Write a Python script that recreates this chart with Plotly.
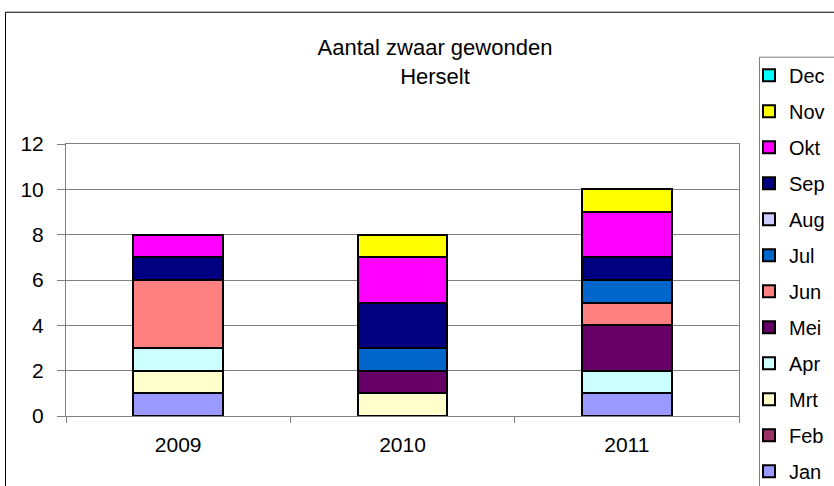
import plotly.graph_objects as go

# Years on the x axis
years = ["2009", "2010", "2011"]

# Seriously injured per month (None = no bar drawn)
jan = [1, None, 1]
feb = [None, None, None]
mrt = [1, 1, None]
apr = [1, None, 1]
mei = [None, 1, 2]
jun = [3, None, 1]
jul = [None, 1, 1]
aug = [None, None, None]
sep = [1, 2, 1]
okt = [1, 2, 2]
nov = [None, 1, 1]
dec = [None, None, None]

months = ["Jan", "Feb", "Mrt", "Apr", "Mei", "Jun", "Jul", "Aug", "Sep", "Okt", "Nov", "Dec"]
values = [jan, feb, mrt, apr, mei, jun, jul, aug, sep, okt, nov, dec]
colors = ["#9999FF", "#993366", "#FFFFCC", "#CCFFFF", "#660066", "#FF8080",
          "#0066CC", "#CCCCFF", "#000080", "#FF00FF", "#FFFF00", "#00FFFF"]

W, H = 834, 486
L, R, T, B = 66, 739, 143.5, 416  # plot area in pixels


def px(x):
    return (x - L) / (R - L)


def py(y):
    return (B - y) / (B - T)


fig = go.Figure()
for i, (name, vals, col) in enumerate(zip(months, values, colors)):
    fig.add_trace(go.Bar(
        x=years, y=vals, name=name, legendgroup=name, legendrank=len(months) - i,
        marker=dict(color=col, line=dict(color="black", width=2)),
        width=0.4,
    ))

family = "Liberation Sans, Arial, sans-serif"
tick_font = dict(family=family, size=21, color="black")
legend_font = dict(family=family, size=20, color="black")
title_font = dict(family=family, size=22, color="black")

fig.update_layout(
    width=W, height=H,
    margin=dict(l=L, r=W - R, t=T, b=H - B, autoexpand=False),
    barmode="stack",
    paper_bgcolor="white",
    plot_bgcolor="white",
    font=tick_font,
    title=dict(text="Aantal zwaar gewonden<br>Herselt", x=px(435), xref="paper",
               xanchor="center", y=1 - 55 / H, yanchor="top", font=title_font),
    xaxis=dict(
        type="category", showgrid=False, showline=True, linecolor="#808080", linewidth=1,
        mirror=True, ticks="outside", tickson="boundaries", ticklen=6, tickcolor="#808080",
        tickfont=tick_font, ticklabelstandoff=10,
    ),
    yaxis=dict(
        range=[0, 12], dtick=2, showgrid=True, gridcolor="#808080", gridwidth=1,
        showline=True, linecolor="#808080", linewidth=1, mirror=True,
        ticks="outside", ticklen=8, tickcolor="#808080", tickfont=tick_font,
        zeroline=False, ticklabelstandoff=9,
    ),
    legend=dict(
        x=px(749), xanchor="left", y=py(55), yanchor="top",
        traceorder="grouped", tracegroupgap=7, maxheight=480,
        bgcolor="rgba(0,0,0,0)", borderwidth=0, font=legend_font,
    ),
    shapes=[
        # outer chart frame
        dict(type="rect", xref="paper", yref="paper", x0=px(5.5), x1=px(866),
             y0=py(11.5), y1=py(500), line=dict(color="black", width=1)),
        # legend frame
        dict(type="rect", xref="paper", yref="paper", x0=px(759.5), x1=px(866),
             y0=py(56.5), y1=py(500), line=dict(color="#808080", width=1)),
    ],
)

fig.write_html("out.html")
